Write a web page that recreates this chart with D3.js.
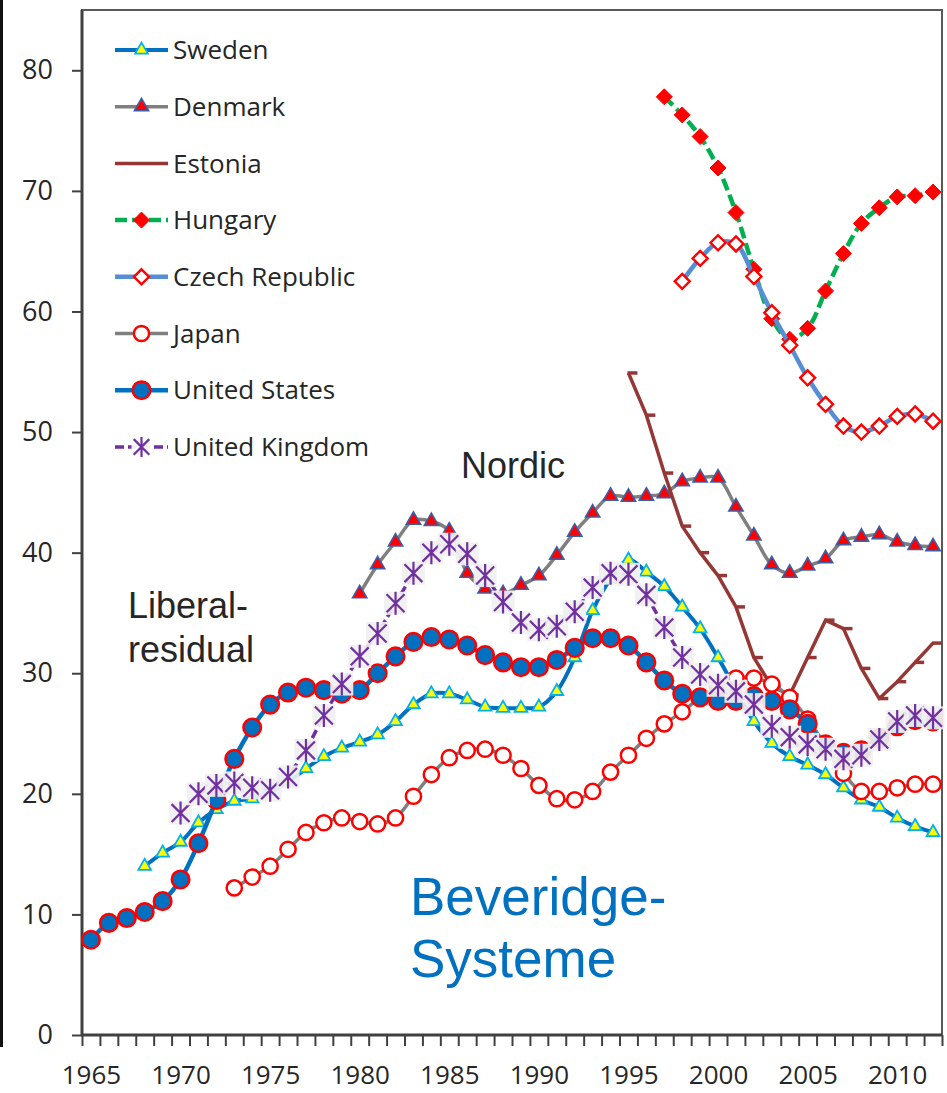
<!DOCTYPE html>
<html><head><meta charset="utf-8">
<script src="https://cdn.jsdelivr.net/npm/d3@7"></script>
<style>body{margin:0;background:#fff}svg{display:block}</style>
</head><body>
<svg id="chart" width="947" height="1093"></svg>
<script>
// ---------- data ----------
const xLabelYears = [1965, 1970, 1975, 1980, 1985, 1990, 1995, 2000, 2005, 2010];
const yTickValues = [0, 10, 20, 30, 40, 50, 60, 70, 80];

const swedenStart = 1968;
const swedenValues = [14.0,15.1,16.0,17.6,18.7,19.4,19.6,20.2,21.0,22.1,23.1,23.8,24.3,24.9,26.0,27.4,28.3,28.3,27.8,27.2,27.1,27.1,27.2,28.5,31.3,35.2,37.8,39.4,38.4,37.2,35.5,33.7,31.3,28.6,26.0,24.2,23.1,22.4,21.6,20.5,19.5,18.9,18.0,17.3,16.8];

const denmarkStart = 1980;
const denmarkValues = [36.6,39.0,40.9,42.7,42.6,41.8,38.3,37.0,36.6,37.3,38.1,39.8,41.7,43.3,44.7,44.6,44.7,44.9,45.9,46.2,46.2,43.8,41.4,39.0,38.3,38.9,39.5,41.0,41.3,41.5,40.9,40.6,40.5];

const estoniaStart = 1995;
const estoniaValues = [54.9,51.4,46.6,42.2,40.0,38.1,35.5,31.3,28.9,28.2,31.3,34.4,33.7,30.4,27.9,29.3,30.9,32.5];

const hungaryStart = 1997;
const hungaryValues = [77.8,76.3,74.5,71.9,68.2,63.5,59.4,57.7,58.6,61.7,64.8,67.3,68.6,69.5,69.6,69.9];

const czechStart = 1998;
const czechValues = [62.5,64.4,65.7,65.6,62.9,59.9,57.2,54.5,52.3,50.5,50.0,50.5,51.3,51.5,50.9];

const japanStart = 1973;
const japanValues = [12.2,13.1,14.0,15.4,16.8,17.6,18.0,17.7,17.5,18.0,19.8,21.6,23.0,23.6,23.7,23.2,22.1,20.7,19.6,19.5,20.2,21.8,23.2,24.6,25.8,26.8,28.0,28.9,29.6,29.6,29.1,28.0,26.2,24.0,21.7,20.2,20.2,20.5,20.8,20.8];

const usStart = 1965;
const usValues = [7.9,9.3,9.7,10.2,11.1,12.9,15.9,19.5,22.9,25.5,27.4,28.4,28.8,28.6,28.3,28.6,30.0,31.4,32.6,33.0,32.8,32.3,31.5,30.9,30.5,30.5,31.1,32.1,32.9,32.9,32.3,30.9,29.4,28.3,28.0,27.7,27.7,28.1,27.7,27.0,25.8,24.1,23.4,23.6,24.6,25.6,26.1,26.0];

const ukStart = 1970;
const ukValues = [18.4,20.0,20.7,20.9,20.5,20.3,21.4,23.6,26.5,29.1,31.4,33.3,35.8,38.3,40.0,40.7,39.9,38.1,35.9,34.2,33.6,33.9,35.1,37.1,38.3,38.2,36.5,33.8,31.3,29.9,29.0,28.5,27.4,25.6,24.7,24.1,23.7,22.9,23.2,24.5,26.0,26.5,26.3];

const seriesNames = ["Sweden","Denmark","Estonia","Hungary","Czech Republic","Japan","United States","United Kingdom"];

// ---------- styles ----------
const series = [
  {name:seriesNames[0], start:swedenStart, values:swedenValues, line:"#0070C0", lw:4, dash:null, curve:true,
   marker:"triangle", size:70, fill:"#FFFF00", stroke:"#00B0F0", sw:1.8},
  {name:seriesNames[1], start:denmarkStart, values:denmarkValues, line:"#7F7F7F", lw:3.5, dash:null, curve:true,
   marker:"triangle", size:88, fill:"#FF0000", stroke:"#3A5FA8", sw:1.6},
  {name:seriesNames[2], start:estoniaStart, values:estoniaValues, line:"#953735", lw:3.5, dash:null, curve:false,
   marker:"dash", fill:"none", stroke:"#953735", sw:3.5},
  {name:seriesNames[3], start:hungaryStart, values:hungaryValues, line:"#00B050", lw:4.5, dash:"12,5", curve:true,
   marker:"diamond", r:8, fill:"#FF0000", stroke:"#FF0000", sw:1},
  {name:seriesNames[4], start:czechStart, values:czechValues, line:"#558ED5", lw:4.5, dash:null, curve:true,
   marker:"diamond", r:7.5, fill:"#FFFFFF", stroke:"#FF0000", sw:2.4},
  {name:seriesNames[5], start:japanStart, values:japanValues, line:"#7F7F7F", lw:3.5, dash:null, curve:true,
   marker:"circle", r:7.6, fill:"#FFFFFF", stroke:"#FF0000", sw:2.5},
  {name:seriesNames[6], start:usStart, values:usValues, line:"#0070C0", lw:4.5, dash:null, curve:true,
   marker:"circle", r:8.8, fill:"#0070C0", stroke:"#FF0000", sw:2.5},
  {name:seriesNames[7], start:ukStart, values:ukValues, line:"#7030A0", lw:3.5, dash:"9,4", curve:false,
   marker:"star", r:11.5, fill:"#F0F0F0", stroke:"#7030A0", sw:2.2}
];

// ---------- scales ----------
const svg = d3.select("#chart");
const x = d3.scaleLinear().domain([1964.5, 2012.5]).range([82, 942]);
const y = d3.scaleLinear().domain([0, 85]).range([1035, 10]);

svg.append("rect").attr("width",947).attr("height",1093).attr("fill","#fff");
// left edge artefact line
svg.append("line").attr("x1",1.5).attr("x2",1.5).attr("y1",0).attr("y2",1047)
   .attr("stroke","#111").attr("stroke-width",3);

// ---------- axes ----------
const fontUI = "'Open Sans', 'DejaVu Sans', sans-serif";

const yAxis = svg.append("g").attr("transform","translate(82,0)")
  .call(d3.axisLeft(y).tickValues(yTickValues).tickSize(10).tickPadding(19));
yAxis.select(".domain").remove();
yAxis.selectAll(".tick line").attr("stroke","#404040").attr("stroke-width",2);
yAxis.selectAll(".tick text").attr("font-family",fontUI).attr("font-size",27).attr("fill","#262626");

const xTicks = svg.append("g").attr("transform","translate(0,1035)")
  .call(d3.axisBottom(x).tickValues(d3.range(1964.5, 2012.6, 1)).tickSize(11).tickFormat(""));
xTicks.select(".domain").remove();
xTicks.selectAll(".tick line").attr("stroke","#404040").attr("stroke-width",2);

const xLabels = svg.append("g").attr("transform","translate(0,1035)")
  .call(d3.axisBottom(x).tickValues(xLabelYears).tickSize(0).tickFormat(d3.format("d")));
xLabels.select(".domain").remove();
xLabels.selectAll(".tick text").attr("y",49).attr("dy",null)
  .attr("font-family",fontUI).attr("font-size",26).attr("fill","#262626");

// plot frame
svg.append("rect").attr("x",82).attr("y",10).attr("width",860).attr("height",1025)
  .attr("fill","none").attr("stroke","#595959").attr("stroke-width",2);
svg.append("line").attr("x1",82).attr("x2",82).attr("y1",10).attr("y2",1036)
  .attr("stroke","#404040").attr("stroke-width",3);
svg.append("line").attr("x1",81).attr("x2",942).attr("y1",1035).attr("y2",1035)
  .attr("stroke","#404040").attr("stroke-width",3);

// ---------- marker drawing ----------
function drawMarker(g, s, cx, cy) {
  if (s.marker === "triangle") {
    g.append("path").attr("d", d3.symbol(d3.symbolTriangle, s.size)())
      .attr("transform",`translate(${cx},${cy})`)
      .attr("fill",s.fill).attr("stroke",s.stroke).attr("stroke-width",s.sw);
  } else if (s.marker === "diamond") {
    const r = s.r;
    g.append("path").attr("d",`M0,${-r}L${r},0L0,${r}L${-r},0Z`)
      .attr("transform",`translate(${cx},${cy})`)
      .attr("fill",s.fill).attr("stroke",s.stroke).attr("stroke-width",s.sw);
  } else if (s.marker === "circle") {
    g.append("circle").attr("cx",cx).attr("cy",cy).attr("r",s.r)
      .attr("fill",s.fill).attr("stroke",s.stroke).attr("stroke-width",s.sw);
  } else if (s.marker === "dash") {
    g.append("line").attr("x1",cx-1).attr("x2",cx+9).attr("y1",cy).attr("y2",cy)
      .attr("stroke",s.stroke).attr("stroke-width",s.sw);
  } else if (s.marker === "star") {
    const r = s.r;
    g.append("rect").attr("x",cx-r).attr("y",cy-r).attr("width",2*r).attr("height",2*r)
      .attr("fill",s.fill).attr("opacity",0.92);
    const k = r*0.78;
    g.append("path").attr("d",`M${cx-k},${cy-k}L${cx+k},${cy+k}M${cx+k},${cy-k}L${cx-k},${cy+k}M${cx},${cy-r}L${cx},${cy+r}`)
      .attr("stroke",s.stroke).attr("stroke-width",s.sw).attr("fill","none");
  }
}

// ---------- series ----------
const plot = svg.append("g");
series.forEach(s => {
  const pts = s.values.map((v,i) => [s.start + i, v]);
  const line = d3.line().x(d => x(d[0])).y(d => y(d[1]))
    .curve(s.curve ? d3.curveCatmullRom.alpha(0.5) : d3.curveLinear);
  const g = plot.append("g");
  g.append("path").datum(pts).attr("d",line).attr("fill","none")
    .attr("stroke",s.line).attr("stroke-width",s.lw)
    .attr("stroke-dasharray",s.dash).attr("stroke-linejoin","round");
  pts.forEach(p => drawMarker(g, s, x(p[0]), y(p[1])));
});

// ---------- legend ----------
const legend = svg.append("g");
series.forEach((s,i) => {
  const ly = 50 + i*56.7;
  const lg = legend.append("g");
  lg.append("line").attr("x1",115).attr("x2",168).attr("y1",ly).attr("y2",ly)
    .attr("stroke",s.line).attr("stroke-width",s.lw).attr("stroke-dasharray",s.dash);
  if (s.marker !== "dash") drawMarker(lg, Object.assign({}, s, s.marker==="star"?{fill:"#fff", r:10}:{}), 141.5, ly);
  lg.append("text").attr("x",173).attr("y",ly).attr("dy","0.35em")
    .attr("font-family",fontUI).attr("font-size",26).attr("fill","#262626").text(s.name);
});

// ---------- annotations ----------
const annFont = "'Liberation Sans', Arial, sans-serif";
const ann = svg.append("g").attr("font-family",annFont);
ann.append("text").attr("x",461).attr("y",478).attr("font-size",36).attr("fill","#262626").text("Nordic");
ann.append("text").attr("x",128).attr("y",618).attr("font-size",36).attr("fill","#262626").text("Liberal-");
ann.append("text").attr("x",128).attr("y",662).attr("font-size",36).attr("fill","#262626").text("residual");
ann.append("text").attr("x",410).attr("y",915).attr("font-size",53).attr("fill","#0070C0").text("Beveridge-");
ann.append("text").attr("x",410).attr("y",977).attr("font-size",53).attr("fill","#0070C0").text("Systeme");
</script>
</body></html>
